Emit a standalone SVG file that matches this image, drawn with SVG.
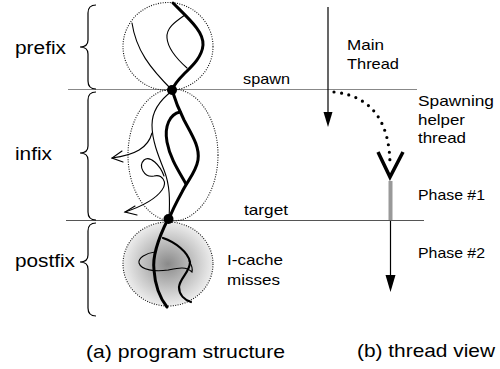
<svg xmlns="http://www.w3.org/2000/svg" width="500" height="369" viewBox="0 0 500 369">
<style>
text{font-family:"Liberation Sans",Arial,sans-serif;fill:#000}
.lbl{font-size:18px}
.sm{font-size:15px}
.cap{font-size:18.5px}
.brace{fill:none;stroke:#000;stroke-width:1.2}
.dotc{fill:none;stroke:#111;stroke-width:1.1;stroke-dasharray:1 1.4}
.thick{fill:none;stroke:#000;stroke-width:3;stroke-linecap:round}
.med{fill:none;stroke:#000;stroke-width:2.2;stroke-linecap:round}
.thin{fill:none;stroke:#000;stroke-width:1.1;stroke-linecap:round}
</style>
<defs>
<radialGradient id="miss" cx="0.5" cy="0.5" r="0.5">
<stop offset="0" stop-color="#8a8a8a"/>
<stop offset="0.6" stop-color="#c6c6c6"/>
<stop offset="1" stop-color="#ededed"/>
</radialGradient>
</defs>
<rect width="500" height="369" fill="#fff"/>

<g id="guides">
<line x1="68" y1="89.5" x2="417" y2="89.5" stroke="#888" stroke-width="1"/>
<line x1="66" y1="220.5" x2="424" y2="220.5" stroke="#555" stroke-width="1"/>
<text class="sm" x="243" y="84" textLength="47" lengthAdjust="spacingAndGlyphs">spawn</text>
<text class="sm" x="244" y="215" textLength="44" lengthAdjust="spacingAndGlyphs">target</text>
</g>

<g id="prefix">
<path class="brace" d="M96,5 Q88,5 88,13 L88,40 Q88,47 80,47 Q88,47 88,54 L88,81 Q88,89 96,89"/>
<text class="lbl" x="15" y="54" textLength="51" lengthAdjust="spacingAndGlyphs">prefix</text>
<ellipse class="dotc" cx="168" cy="46.5" rx="45" ry="44"/>
<path class="thick" d="M173,3 C190,20 204,32 203,45 C202,58 190,68 184,74 C178,80 174,85 172,90"/>
<path class="thin" d="M185,15 C175,22 166,28 167,38 C168,50 178,60 187,68"/>
<path class="thin" d="M132,23 C136,50 150,68 172,90"/>
</g>

<g id="infix">
<path class="brace" d="M96,92 Q88,92 88,100 L88,146 Q88,153 80,153 Q88,153 88,160 L88,212 Q88,220 96,220"/>
<text class="lbl" x="15" y="160" textLength="37" lengthAdjust="spacingAndGlyphs">infix</text>
<ellipse class="dotc" cx="173" cy="155" rx="45" ry="66"/>
<path class="thick" d="M172,90 C175,100 178,108 184,120 C192,135 200,147 198,160 C196,172 188,180 182,192 C176,203 172,211 169,219"/>
<path class="thick" d="M180,112 C170,114 164,126 167,142 C170,158 178,170 186,184"/>
<path class="thin" d="M172,91 C160,100 152,110 152,125 C152,140 158,155 164,170 C170,185 170,200 169,219"/>
<path class="thin" d="M152,133 C148,148 135,155 112,158"/>
<path class="thin" d="M122,151 L112,158 L123,162"/>
<path class="thin" d="M164,176 C160,165 150,155 144,160 C138,166 144,178 154,176 C162,174 168,182 162,190 C155,200 140,207 125,212"/>
<path class="thin" d="M135,206 L125,212 L137,215"/>
</g>

<g id="postfix">
<path class="brace" d="M96,223 Q88,223 88,231 L88,255 Q88,262 80,262 Q88,262 88,269 L88,308 Q88,316 96,316"/>
<text class="lbl" x="15" y="267" textLength="60" lengthAdjust="spacingAndGlyphs">postfix</text>
<ellipse cx="168" cy="264" rx="45" ry="42" fill="url(#miss)"/>
<ellipse class="dotc" cx="168" cy="264" rx="45" ry="42"/>
<path class="thick" d="M168,219 C160,235 152,255 154,270 C155,285 160,298 167,307"/>
<path class="med" d="M163,238 C175,242 188,252 190,262 C190,272 180,278 179,287 C179,295 185,300 191,302"/>
<path class="thin" d="M155,252 C146,253 138,258 139,263 C141,270 155,272 168,270 C178,268 186,266 192,272 C193,268 191,264 189,261"/>
<text class="sm" x="227" y="265" textLength="56" lengthAdjust="spacingAndGlyphs">I-cache</text>
<text class="sm" x="227" y="285" textLength="53" lengthAdjust="spacingAndGlyphs">misses</text>
</g>

<g id="dots">
<circle cx="172" cy="90" r="5" fill="#000"/>
<circle cx="168.5" cy="219" r="5" fill="#000"/>
</g>

<g id="main-thread">
<line x1="328" y1="7" x2="328" y2="114" stroke="#000" stroke-width="1.2"/>
<polygon points="323.5,112 332.5,112 328,127" fill="#000"/>
<text class="sm" x="347" y="50" textLength="37" lengthAdjust="spacingAndGlyphs">Main</text>
<text class="sm" x="347" y="69" textLength="52" lengthAdjust="spacingAndGlyphs">Thread</text>
</g>

<g id="helper-thread">
<path d="M334,92 C372,96 390,122 390,166" fill="none" stroke="#000" stroke-width="3.2" stroke-linecap="round" stroke-dasharray="0 7.5"/>
<polyline points="378,152 390,177 403,152" fill="none" stroke="#000" stroke-width="3.5" stroke-linejoin="miter"/>
<text class="sm" x="418" y="106" textLength="76" lengthAdjust="spacingAndGlyphs">Spawning</text>
<text class="sm" x="418" y="125" textLength="47" lengthAdjust="spacingAndGlyphs">helper</text>
<text class="sm" x="418" y="143" textLength="48" lengthAdjust="spacingAndGlyphs">thread</text>
</g>

<g id="phase1">
<line x1="390.5" y1="181" x2="390.5" y2="220" stroke="#999" stroke-width="4"/>
<text class="sm" x="418" y="200" textLength="67" lengthAdjust="spacingAndGlyphs">Phase #1</text>
</g>

<g id="phase2">
<line x1="390.5" y1="221" x2="390.5" y2="277" stroke="#000" stroke-width="1.2"/>
<polygon points="385.5,275 395.5,275 390.5,292" fill="#000"/>
<text class="sm" x="418" y="258" textLength="67" lengthAdjust="spacingAndGlyphs">Phase #2</text>
</g>

<g id="captions">
<text class="cap" x="86" y="358" textLength="199" lengthAdjust="spacingAndGlyphs">(a) program structure</text>
<text class="cap" x="357" y="357" textLength="138" lengthAdjust="spacingAndGlyphs">(b) thread view</text>
</g>
</svg>
